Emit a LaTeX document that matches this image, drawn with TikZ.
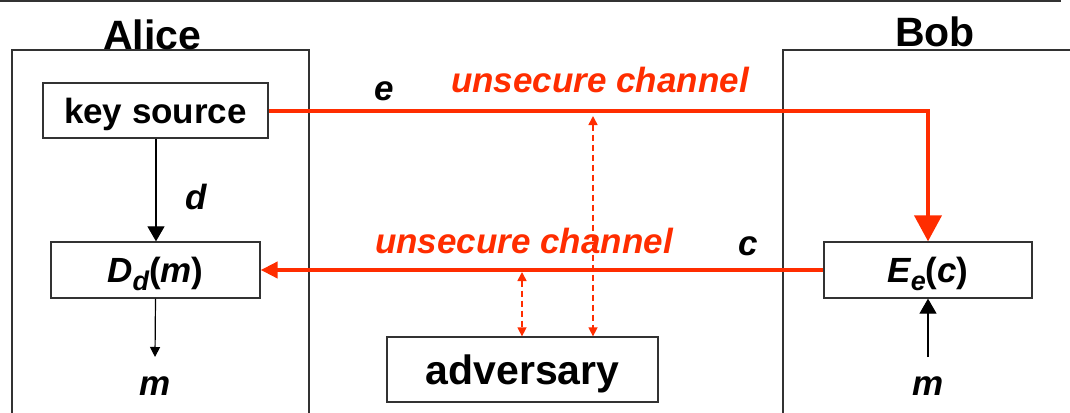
\documentclass[tikz,border=0pt]{standalone}
\usepackage{fontspec}
\setmainfont{Liberation Sans}
\usetikzlibrary{arrows.meta}
\definecolor{chan}{RGB}{255,45,0}
\definecolor{frame}{RGB}{50,50,50}
\newcommand{\bigtxt}{\fontsize{41}{46}\selectfont\bfseries}
\newcommand{\midtxt}{\fontsize{35}{40}\selectfont\bfseries}
\newcommand{\subtxt}[1]{\raisebox{-0.22em}{\fontsize{27}{27}\selectfont #1}}
\begin{document}
\begin{tikzpicture}[x=1pt,y=-1pt,
  boxnode/.style={draw=frame, line width=1.3pt, inner sep=0pt, font=\midtxt, text height=25pt, text depth=0pt},
  bigbox/.style={draw=frame, line width=1.3pt, inner sep=0pt, font=\bigtxt, text height=29.5pt, text depth=0pt},
  title/.style={font=\bigtxt, inner sep=0pt},
  lbl/.style={font=\midtxt\itshape, inner sep=0pt},
  chlbl/.style={font=\midtxt\itshape, text=chan, inner sep=0pt},
  redline/.style={draw=chan, line width=4pt, -{Triangle[length=26pt,width=27pt]}},
  redthin/.style={draw=chan, line width=4pt, -{Triangle[length=17pt,width=16pt]}},
  blackarrow/.style={draw=black, line width=1.2pt, -{Triangle[length=15pt,width=17pt]}},
  smallarrow/.style={draw=black, line width=1.2pt, -{Triangle[length=10pt,width=10pt]}},
  spy/.style={draw=chan, line width=1.5pt, dash pattern=on 6pt off 4pt, {Triangle[length=9pt,width=9pt]}-{Triangle[length=9pt,width=9pt]}}
]
\useasboundingbox (0,0) rectangle (1070,412);
% top rule
\draw[frame, line width=2.2pt] (0,1) -- (1061,1);
% party frames
\draw[frame, line width=1.3pt] (12,414) -- (12,50) -- (309,50) -- (309,414);
\draw[frame, line width=1.3pt] (783,414) -- (783,50) -- (1072,50);
\node[title] (alice) at (152,35) {Alice};
\node[title] (bob) at (935,32) {Bob};
% boxes
\node[boxnode, minimum width=225pt, minimum height=55pt] (ks) at (155.5,110.5) {key source};
\node[boxnode, minimum width=209pt, minimum height=56pt] (D) at (155.5,270) {\itshape D\subtxt{d}\upshape(\itshape m\upshape)};
\node[boxnode, minimum width=208pt, minimum height=56pt] (E) at (928,270) {\itshape E\subtxt{e}\upshape(\itshape c\upshape)};
\node[bigbox, minimum width=271pt, minimum height=65pt] (adv) at (522.5,369.5) {adversary};
% labels
\node[lbl] (le) at (384,91) {e};
\node[lbl] (ld) at (196,197) {d};
\node[lbl] (lc) at (748,246) {c};
\node[chlbl] (ch1) at (600,80) {unsecure channel};
\node[chlbl] (ch2) at (524,241) {unsecure channel};
\node[lbl] (mA) at (155,386) {m};
\node[lbl] (mB) at (928,386) {m};
\coordinate (mAt) at (155,357);
\coordinate (mBt) at (928,357);
% channels
\draw[redline] (ks.east) -| (E.north);
\draw[redthin] (E.west) -- (D.east);
% key to decrypt
\draw[blackarrow] (ks.south -| 156,0) -- (D.north -| 156,0);
\draw[smallarrow] (D.south) -- (mAt);
\draw[blackarrow] (mBt) -- (E.south);
% adversary taps
\coordinate (t1) at (593,116);
\coordinate (t2) at (522,272);
\draw[spy] (t1) -- (t1 |- adv.north);
\draw[spy] (t2) -- (t2 |- adv.north);
\end{tikzpicture}
\end{document}
